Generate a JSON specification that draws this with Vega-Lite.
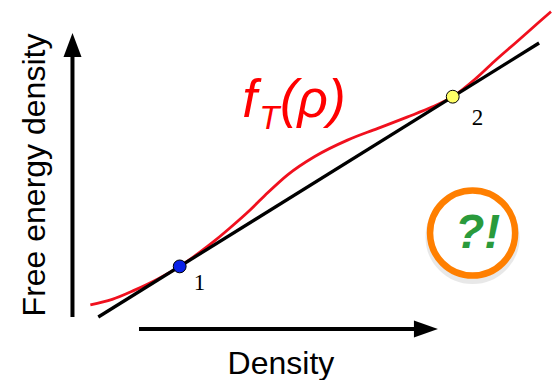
{
  "$schema": "https://vega.github.io/schema/vega-lite/v6.json",
  "width": 557,
  "height": 380,
  "autosize": {"type": "fit", "contains": "padding"},
  "padding": 0,
  "background": "white",
  "config": {"view": {"stroke": null}},
  "encoding": {
    "x": {"field": "x", "type": "quantitative", "axis": null, "scale": {"domain": [0, 557], "nice": false, "zero": false}},
    "y": {"field": "y", "type": "quantitative", "axis": null, "scale": {"domain": [0, 380], "nice": false, "zero": false}}
  },
  "layer": [
    {
      "data": {"values": [{"x": 73, "y": 63, "x2": 73, "y2": 324}, {"x": 140, "y": 51, "x2": 418, "y2": 51}]},
      "mark": {"type": "rule", "color": "black", "strokeWidth": 4},
      "encoding": {"x2": {"field": "x2"}, "y2": {"field": "y2"}}
    },
    {
      "data": {"values": [{"x": 73, "y": 335}]},
      "mark": {"type": "point", "shape": "M0,-1L0.75,1L-0.75,1Z", "size": 576, "filled": true, "color": "black", "opacity": 1},
      "encoding": {}
    },
    {
      "data": {"values": [{"x": 429, "y": 51}]},
      "mark": {"type": "point", "shape": "M1,0L-1,-0.7L-1,0.7Z", "size": 576, "filled": true, "color": "black", "opacity": 1},
      "encoding": {}
    },
    {
      "data": {"values": [
        {"x": 91, "y": 75.1}, {"x": 113, "y": 80.6}, {"x": 135, "y": 89.6}, {"x": 160, "y": 101.5},
        {"x": 181, "y": 113.6}, {"x": 200, "y": 126.8}, {"x": 217, "y": 139.8}, {"x": 233, "y": 153.2},
        {"x": 250, "y": 168.2}, {"x": 267, "y": 184.7}, {"x": 290, "y": 205.4}, {"x": 317, "y": 223.5},
        {"x": 350, "y": 239.9}, {"x": 380, "y": 251.4}, {"x": 410, "y": 262.9}, {"x": 435, "y": 272.9},
        {"x": 456, "y": 283.3}, {"x": 480, "y": 302.1}, {"x": 500, "y": 320.5}, {"x": 520, "y": 337.8},
        {"x": 543, "y": 358}, {"x": 555, "y": 368.4}
      ]},
      "mark": {"type": "line", "color": "#f0101e", "strokeWidth": 2.8, "interpolate": "monotone"},
      "encoding": {}
    },
    {
      "data": {"values": [{"x": 99, "y": 63}, {"x": 543, "y": 337}]},
      "mark": {"type": "line", "color": "black", "strokeWidth": 3.3},
      "encoding": {}
    },
    {
      "data": {"values": [{"x": 181, "y": 113.6, "c": "1"}, {"x": 456, "y": 283.3, "c": "2"}]},
      "mark": {"type": "point", "filled": true, "size": 165, "stroke": "black", "strokeWidth": 1, "opacity": 1},
      "encoding": {
        "fill": {"field": "c", "type": "nominal", "scale": {"domain": ["1", "2"], "range": ["#0a22e8", "#ffff66"]}, "legend": null}
      }
    },
    {
      "data": {"values": [{"x": 201, "y": 90, "t": "1"}, {"x": 481, "y": 255, "t": "2"}]},
      "mark": {"type": "text", "font": "Liberation Serif", "fontSize": 23, "color": "black", "align": "center", "baseline": "alphabetic"},
      "encoding": {"text": {"field": "t"}}
    },
    {
      "data": {"values": [{"x": 476, "y": 143}]},
      "mark": {"type": "point", "size": 7238, "stroke": "#999999", "strokeWidth": 9, "opacity": 0.22, "filled": false},
      "encoding": {}
    },
    {
      "data": {"values": [{"x": 476, "y": 147}]},
      "mark": {"type": "point", "size": 7238, "stroke": "#ff7f00", "fill": "white", "strokeWidth": 6.5, "opacity": 1, "filled": false, "fillOpacity": 1},
      "encoding": {}
    },
    {
      "data": {"values": [{"x": 481, "y": 132, "t": "?!"}]},
      "mark": {"type": "text", "font": "Liberation Sans", "fontSize": 48, "fontWeight": "bold", "fontStyle": "italic", "color": "#2a9a3c", "align": "center", "baseline": "alphabetic"},
      "encoding": {"text": {"field": "t"}}
    },
    {
      "data": {"values": [{"x": 244, "y": 263, "t": "f"}, {"x": 282, "y": 263, "t": "(ρ)"}]},
      "mark": {"type": "text", "font": "Liberation Sans", "fontSize": 53, "fontStyle": "italic", "color": "#ff0000", "align": "left", "baseline": "alphabetic"},
      "encoding": {"text": {"field": "t"}}
    },
    {
      "data": {"values": [{"x": 261, "y": 251, "t": "T"}]},
      "mark": {"type": "text", "font": "Liberation Sans", "fontSize": 33, "fontStyle": "italic", "color": "#ff0000", "align": "left", "baseline": "alphabetic"},
      "encoding": {"text": {"field": "t"}}
    },
    {
      "data": {"values": [{"x": 283, "y": 6, "t": "Density"}]},
      "mark": {"type": "text", "font": "Liberation Sans", "fontSize": 32, "color": "black", "align": "center", "baseline": "alphabetic"},
      "encoding": {"text": {"field": "t"}}
    },
    {
      "data": {"values": [{"x": 45, "y": 205, "t": "Free energy density"}]},
      "mark": {"type": "text", "font": "Liberation Sans", "fontSize": 32, "color": "black", "align": "center", "baseline": "alphabetic", "angle": 270},
      "encoding": {"text": {"field": "t"}}
    }
  ]
}
